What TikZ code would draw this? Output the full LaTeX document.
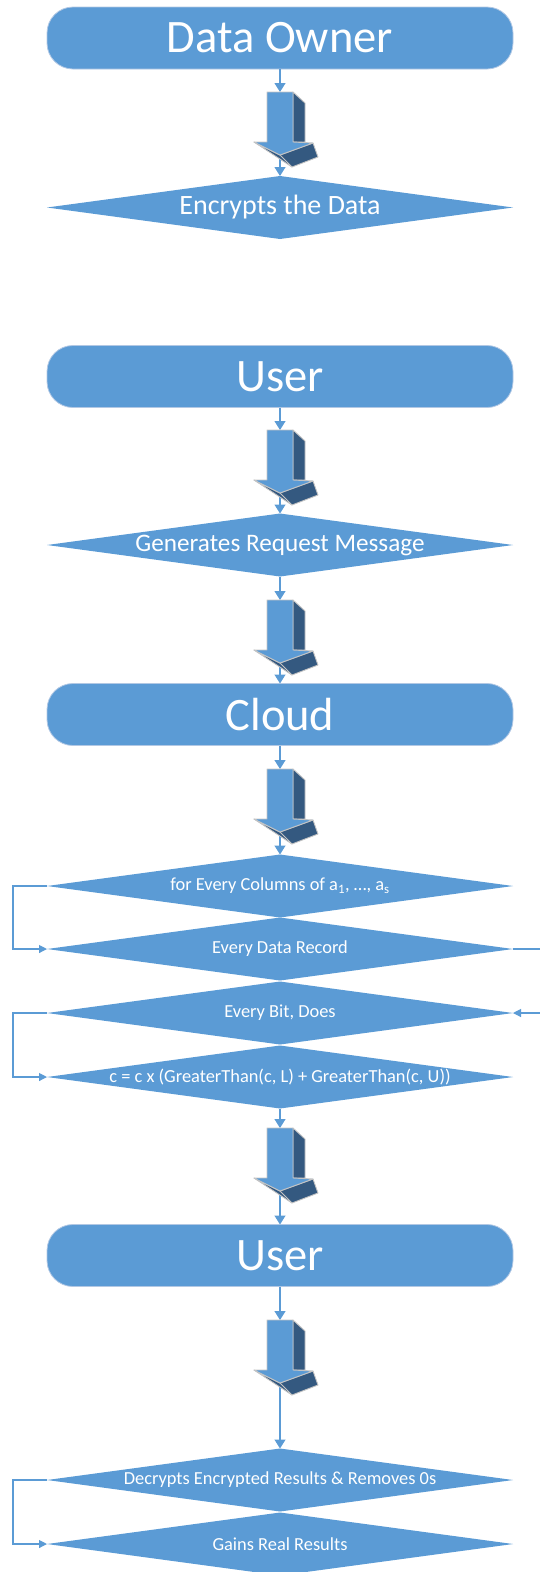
\documentclass[tikz,border=0pt]{standalone}
\usepackage{fontspec}
\setmainfont{Carlito}
\usetikzlibrary{shapes.geometric,arrows.meta}

\definecolor{boxblue}{RGB}{91,155,213}
\definecolor{sidedark}{RGB}{52,89,128}
\definecolor{edgegray}{RGB}{196,196,196}
\definecolor{rim}{RGB}{178,200,228}

\tikzset{
  actor/.style={rectangle, rounded corners=26pt, fill=boxblue, draw=rim, line width=0.8pt,
    minimum width=466pt, minimum height=62pt, inner sep=0pt, outer sep=0pt,
    text=white, font=\fontsize{46.5}{50}\selectfont},
  decision/.style={diamond, aspect=7.3, fill=boxblue, minimum width=466pt, minimum height=63pt,
    inner sep=0pt, outer sep=0pt, text=white, font=\fontsize{18.4}{20}\selectfont},
  conn/.style={draw=boxblue, line width=1.2pt, -{Triangle[length=9pt,width=11pt]}},
  loopback/.style={draw=boxblue, line width=1.1pt, -{Triangle[length=8pt,width=8pt]}},
  plainline/.style={draw=boxblue, line width=1.1pt},
  pics/blockarrow/.style={code={
    \coordinate (-top) at (0,0);
    \coordinate (-bot) at (0,63);
    \path[fill=sidedark, draw=edgegray, line width=0.9pt, line join=round]
      (-26,50) -- (0,63) -- (33,51) -- (38,65) -- (12,75) -- cycle;
    \path[draw=edgegray, line width=0.9pt] (0,63) -- (12,75);
    \path[fill=sidedark, draw=edgegray, line width=0.9pt, line join=round]
      (13,0) -- (25,11) -- (25,50) -- (13,50) -- cycle;
    \path[fill=boxblue, draw=edgegray, line width=0.9pt, line join=round]
      (-13,0) -- (13,0) -- (13,50) -- (33,51) -- (0,63) -- (-26,50) -- (-13,50) -- cycle;
  }}
}

\begin{document}
\begin{tikzpicture}[x=1pt, y=-1pt]
\useasboundingbox (0,0) rectangle (540,1572);

% stages of the protocol
\node[actor] (owner) at (280,38) {Data Owner};
\node[decision, font=\fontsize{28}{30}\selectfont] (encrypt) at (280,207.5) {Encrypts the Data};

\node[actor] (user1) at (280,376.5) {User};
\node[decision, font=\fontsize{25.2}{27}\selectfont] (request) at (280,545) {Generates Request Message};

\node[actor] (cloud) at (280,714.5) {Cloud};
\node[decision] (columns) at (280,886) {for Every Columns of a\textsubscript{1}, …, a\textsubscript{s}};
\node[decision] (record) at (280,949) {Every Data Record};
\node[decision] (bit) at (280,1013) {Every Bit, Does};
\node[decision] (calc) at (280,1077) {c = c x (GreaterThan(c, L) + GreaterThan(c, U))};

\node[actor] (user2) at (280,1255.5) {User};
\node[decision] (decrypt) at (280,1480) {Decrypts Encrypted Results \& Removes 0s};
\node[decision] (gains) at (280,1544) {Gains Real Results};

% free ends on the right margin
\coordinate (exitR) at (540,949);
\coordinate (entryR) at (540,1013);

% block arrow positions (named so the thin connectors can attach)
\path (280,92) coordinate (p1) (280,430) coordinate (p2) (280,600) coordinate (p3)
      (280,769) coordinate (p4) (280,1128) coordinate (p5) (280,1320) coordinate (p6);
\path (280,155) coordinate (q1) (280,493) coordinate (q2) (280,663) coordinate (q3)
      (280,832) coordinate (q4) (280,1191) coordinate (q5) (280,1383) coordinate (q6);

% thin connectors
\draw[conn] (owner.south) -- (p1);
\draw[conn] (q1) -- (encrypt.north);
\draw[conn] (user1.south) -- (p2);
\draw[conn] (q2) -- (request.north);
\draw[conn] (request.south) -- (p3);
\draw[conn] (q3) -- (cloud.north);
\draw[conn] (cloud.south) -- (p4);
\draw[conn] (q4) -- (columns.north);
\draw[conn] (calc.south) -- (p5);
\draw[conn] (q5) -- (user2.north);
\draw[conn] (user2.south) -- (p6);
\draw[conn] (q6) -- (decrypt.north);

% loops
\draw[loopback] (columns.west) -- ++(-34,0) |- (record.west);
\draw[plainline] (record.east) -- (exitR);
\draw[loopback] (entryR) -- (bit.east);
\draw[loopback] (bit.west) -- ++(-34,0) |- (calc.west);
\draw[loopback] (decrypt.west) -- ++(-34,0) |- (gains.west);

% 3-D block arrows
\pic (ba1) at (p1) {blockarrow};
\pic (ba2) at (p2) {blockarrow};
\pic (ba3) at (p3) {blockarrow};
\pic (ba4) at (p4) {blockarrow};
\pic (ba5) at (p5) {blockarrow};
\pic (ba6) at (p6) {blockarrow};
\end{tikzpicture}
\end{document}
